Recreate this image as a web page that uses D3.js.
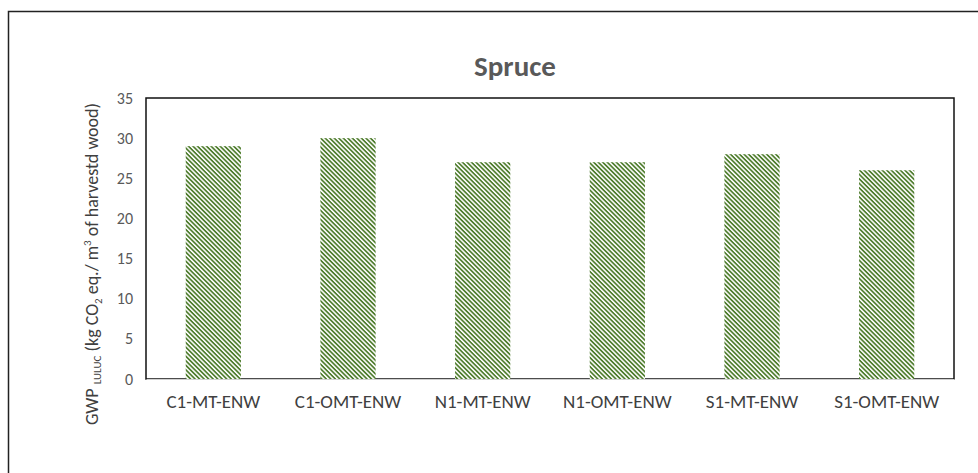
<!DOCTYPE html>
<html>
<head>
<meta charset="utf-8">
<script src="https://cdn.jsdelivr.net/npm/d3@7"></script>
<style>
  body { margin: 0; background: #fff; }
  svg { display: block; }
</style>
</head>
<body>
<svg id="chart"></svg>
<script>

// chart values
const categories = ["C1-MT-ENW", "C1-OMT-ENW", "N1-MT-ENW", "N1-OMT-ENW", "S1-MT-ENW", "S1-OMT-ENW"];
const gwpValues = [29, 30, 27, 27, 28, 26];
const yTicks = [0, 5, 10, 15, 20, 25, 30, 35];

const W = 978, H = 473;
const margin = {top: 98, right: 24, bottom: 94, left: 146},
	width = W - margin.left - margin.right,
	height = H - margin.top - margin.bottom;

const font = "Calibri, Carlito, 'Open Sans', sans-serif";
const green = "#4f7d2e";

const svg = d3.select("#chart")
	.attr("width", W)
	.attr("height", H);

// diagonal stripe pattern like the excel fill ("\\\\" direction)
const defs = svg.append("defs");
const pat = defs.append("pattern")
	.attr("id", "stripes")
	.attr("patternUnits", "userSpaceOnUse")
	.attr("width", 3.2)
	.attr("height", 3.2)
	.attr("patternTransform", "rotate(45)");
pat.append("rect").attr("width", 3.2).attr("height", 3.2).attr("fill", "#fff");
pat.append("rect").attr("width", 3.2).attr("height", 1.7).attr("fill", green);

// outer chart border
svg.append("rect")
	.attr("x", 8.5).attr("y", 11.5)
	.attr("width", W + 20).attr("height", H + 20)
	.attr("fill", "none")
	.attr("stroke", "#222")
	.attr("stroke-width", 1.5);

const g = svg.append("g")
	.attr("transform", "translate(" + margin.left + "," + margin.top + ")");

const x = d3.scaleBand().domain(categories).range([0, width]).paddingInner(0.59).paddingOuter(0.295);
const y = d3.scaleLinear().domain([0, 35]).range([height, 0]);

// plot area border
g.append("rect")
	.attr("x", 0).attr("y", 0)
	.attr("width", width).attr("height", height)
	.attr("fill", "none")
	.attr("stroke", "#111")
	.attr("stroke-width", 1.5);

g.selectAll(".bar")
	.data(gwpValues)
	.enter()
	.append("rect")
	.attr("class", "bar")
	.attr("x", (d, i) => x(categories[i]))
	.attr("y", d => y(d))
	.attr("width", x.bandwidth())
	.attr("height", d => height - y(d))
	.attr("fill", "url(#stripes)");

// x axis
const xAxis = g.append("g")
	.attr("transform", "translate(0," + height + ")")
	.call(d3.axisBottom(x).tickSize(0).tickPadding(16));
xAxis.select(".domain").attr("stroke", "#d0d0d0").attr("stroke-width", 1.2);
xAxis.selectAll("text")
	.attr("font-family", font)
	.attr("font-size", "19px")
	.attr("fill", "#404040");

// y axis
const yAxis = g.append("g")
	.call(d3.axisLeft(y).tickValues(yTicks).tickSize(0).tickPadding(13));
yAxis.select(".domain").remove();
yAxis.selectAll("text")
	.attr("font-family", font)
	.attr("font-size", "16px")
	.attr("fill", "#595959");

// title
svg.append("text")
	.attr("x", 515)
	.attr("y", 76)
	.attr("text-anchor", "middle")
	.attr("font-family", font)
	.attr("font-weight", "bold")
	.attr("font-size", "29px")
	.attr("fill", "#595959")
	.text("Spruce");

// y label with sub/superscripts
const yl = svg.append("text")
	.attr("transform", "translate(98,264) rotate(-90)")
	.attr("text-anchor", "middle")
	.attr("font-family", font)
	.attr("font-size", "18px")
	.attr("fill", "#404040");
yl.append("tspan").text("GWP ");
yl.append("tspan").attr("font-size", "11px").attr("dy", 3).text("LULUC");
yl.append("tspan").attr("dy", -3).text(" (kg CO");
yl.append("tspan").attr("font-size", "11px").attr("dy", 4).text("2");
yl.append("tspan").attr("dy", -4).text(" eq./ m");
yl.append("tspan").attr("font-size", "11px").attr("dy", -7).text("3");
yl.append("tspan").attr("dy", 7).text(" of harvestd wood)");

</script>
</body>
</html>
